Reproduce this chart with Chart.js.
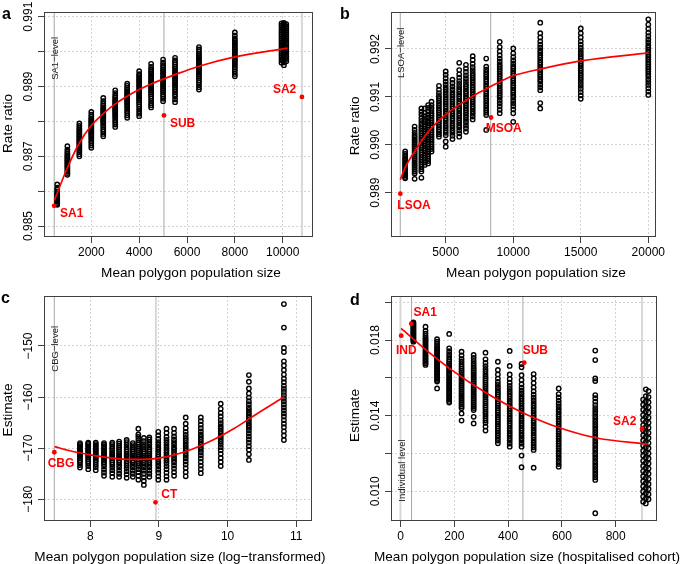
<!DOCTYPE html>
<html>
<head>
<meta charset="utf-8">
<script src="https://cdn.jsdelivr.net/npm/chart.js@4.4.1/dist/chart.umd.min.js"></script>
<style>
  body { margin: 0; background: #fff; width: 685px; height: 564px; position: relative; overflow: hidden; }
  canvas { position: absolute; left: 0; top: 0; }
</style>
</head>
<body>
<canvas id="pa" width="685" height="564"></canvas>
<canvas id="pb" width="685" height="564"></canvas>
<canvas id="pc" width="685" height="564"></canvas>
<canvas id="pd" width="685" height="564"></canvas>
<script>
// ---- panel a : SA1 / SUB / SA2 rate ratios ----
var aColX = [575, 1000, 1500, 2000, 2500, 3000, 3500, 4000, 4500, 5000, 5500, 6500, 8000, 9950, 10050, 10150];
var aColY = [
  [0.98561, 0.98563, 0.98566, 0.9857, 0.98573, 0.98576, 0.98578, 0.98581, 0.98584, 0.98588, 0.98591, 0.98594, 0.98598, 0.98604, 0.9861, 0.98619],
  [0.98647, 0.98652, 0.98657, 0.98662, 0.98667, 0.98671, 0.98675, 0.98679, 0.98683, 0.98687, 0.98691, 0.98695, 0.98699, 0.98703, 0.98708, 0.98713, 0.98719, 0.98729],
  [0.987, 0.98706, 0.98712, 0.98717, 0.98722, 0.98727, 0.98731, 0.98735, 0.98739, 0.98743, 0.98747, 0.98751, 0.98755, 0.98759, 0.98763, 0.98767, 0.98771, 0.98776, 0.98781, 0.98787, 0.98794],
  [0.98724, 0.98731, 0.98738, 0.98744, 0.9875, 0.98755, 0.9876, 0.98764, 0.98768, 0.98772, 0.98776, 0.9878, 0.98784, 0.98788, 0.98792, 0.98796, 0.988, 0.98804, 0.98808, 0.98813, 0.98819, 0.98827],
  [0.98757, 0.98764, 0.98771, 0.98777, 0.98783, 0.98788, 0.98793, 0.98797, 0.98801, 0.98805, 0.98809, 0.98813, 0.98817, 0.98821, 0.98825, 0.98829, 0.98833, 0.98837, 0.98841, 0.98846, 0.98851, 0.98858, 0.98867],
  [0.98784, 0.98791, 0.98798, 0.98804, 0.9881, 0.98815, 0.9882, 0.98824, 0.98828, 0.98832, 0.98836, 0.9884, 0.98844, 0.98848, 0.98852, 0.98856, 0.9886, 0.98864, 0.98869, 0.98874, 0.98881, 0.98889],
  [0.9881, 0.98817, 0.98824, 0.9883, 0.98836, 0.98841, 0.98846, 0.9885, 0.98854, 0.98858, 0.98862, 0.98866, 0.9887, 0.98874, 0.98878, 0.98882, 0.98886, 0.98891, 0.98896, 0.98902, 0.98908],
  [0.98815, 0.98822, 0.98829, 0.98836, 0.98843, 0.98849, 0.98855, 0.9886, 0.98865, 0.9887, 0.98875, 0.9888, 0.98885, 0.9889, 0.98895, 0.989, 0.98905, 0.9891, 0.98915, 0.9892, 0.98925, 0.9893, 0.98935, 0.98944],
  [0.9884, 0.98846, 0.98852, 0.98859, 0.98866, 0.98872, 0.98878, 0.98883, 0.98888, 0.98893, 0.98898, 0.98903, 0.98908, 0.98913, 0.98918, 0.98923, 0.98928, 0.98933, 0.98938, 0.98943, 0.98949, 0.98956, 0.98965],
  [0.98858, 0.98865, 0.98872, 0.98878, 0.98884, 0.98889, 0.98894, 0.98899, 0.98904, 0.98909, 0.98914, 0.98919, 0.98924, 0.98929, 0.98934, 0.98939, 0.98944, 0.98949, 0.98955, 0.98961, 0.98968, 0.98977],
  [0.98855, 0.98863, 0.98871, 0.98878, 0.98885, 0.98891, 0.98897, 0.98902, 0.98907, 0.98912, 0.98917, 0.98922, 0.98927, 0.98932, 0.98937, 0.98942, 0.98947, 0.98952, 0.98957, 0.98963, 0.98969, 0.98975, 0.98982],
  [0.98891, 0.98898, 0.98905, 0.98912, 0.98918, 0.98924, 0.98929, 0.98934, 0.98939, 0.98944, 0.98949, 0.98954, 0.98959, 0.98964, 0.98969, 0.98974, 0.98979, 0.98984, 0.98989, 0.98994, 0.99, 0.99006, 0.99013],
  [0.98929, 0.98936, 0.98943, 0.9895, 0.98956, 0.98962, 0.98967, 0.98972, 0.98977, 0.98982, 0.98987, 0.98992, 0.98997, 0.99002, 0.99007, 0.99012, 0.99017, 0.99022, 0.99027, 0.99032, 0.99038, 0.99046, 0.99055],
  [0.98968, 0.98975, 0.98982, 0.98989, 0.98995, 0.99001, 0.99007, 0.99013, 0.99019, 0.99025, 0.99031, 0.99037, 0.99043, 0.99049, 0.99055, 0.99061, 0.99068, 0.99075, 0.99081],
  [0.98961, 0.98969, 0.98977, 0.98985, 0.98992, 0.98998, 0.99004, 0.9901, 0.99016, 0.99022, 0.99028, 0.99034, 0.9904, 0.99046, 0.99052, 0.99058, 0.99064, 0.99071, 0.99078, 0.99082],
  [0.98972, 0.98979, 0.98986, 0.98993, 0.99, 0.99006, 0.99012, 0.99018, 0.99024, 0.9903, 0.99036, 0.99042, 0.99048, 0.99054, 0.9906, 0.99066, 0.99073, 0.99079]
];
var aFitX = [453, 1000, 1500, 2000, 2500, 3000, 3500, 4000, 4500, 5000, 5500, 6500, 8000, 10200];
var aFitY = [0.98573, 0.98667, 0.98738, 0.98788, 0.98822, 0.9885, 0.98872, 0.98891, 0.98907, 0.98921, 0.98934, 0.98958, 0.98985, 0.9901];
var aLevelX = [450, 5036, 10803];
var aRefX = [445, 5036, 10803];
var aRefY = [0.98558, 0.98817, 0.9887];
var aRefLabel = ['SA1', 'SUB', 'SA2'];
var aXTicks = [2000, 4000, 6000, 8000, 10000];
var aXLabels = ['2000', '4000', '6000', '8000', '10000'];
var aYTicks = [0.985, 0.986, 0.987, 0.988, 0.989, 0.990, 0.991];
var aYLabels = ['0.985', '', '0.987', '', '0.989', '', '0.991'];

// ---- panel b : LSOA / MSOA rate ratios ----
var bColX = [2000, 2700, 3200, 3450, 3700, 3950, 4500, 5000, 5500, 6000, 6500, 7000, 8000, 9000, 10000, 12000, 15000, 20000];
var bColY = [
  [0.9893, 0.98933, 0.98936, 0.98939, 0.98942, 0.98945, 0.98948, 0.98951, 0.98954, 0.98957, 0.9896, 0.98963, 0.98966, 0.98969, 0.98972, 0.98976, 0.98981, 0.98986],
  [0.98929, 0.9894, 0.98944, 0.98948, 0.98952, 0.98956, 0.9896, 0.98964, 0.98968, 0.98972, 0.98976, 0.9898, 0.98984, 0.98988, 0.98992, 0.98996, 0.99, 0.99004, 0.99008, 0.99012, 0.99016, 0.9902, 0.99025, 0.99031, 0.99038],
  [0.98931, 0.98944, 0.98949, 0.98954, 0.98959, 0.98964, 0.98969, 0.98974, 0.98979, 0.98984, 0.98989, 0.98994, 0.98999, 0.99004, 0.99009, 0.99014, 0.99019, 0.99024, 0.99029, 0.99034, 0.99039, 0.99044, 0.9905, 0.99056, 0.99063, 0.99069, 0.99076],
  [0.98958, 0.98963, 0.98968, 0.98973, 0.98978, 0.98983, 0.98988, 0.98993, 0.98998, 0.99003, 0.99008, 0.99013, 0.99018, 0.99023, 0.99028, 0.99033, 0.99038, 0.99043, 0.99048, 0.99054, 0.9906, 0.99067, 0.99076],
  [0.98961, 0.98966, 0.98971, 0.98976, 0.98981, 0.98986, 0.98991, 0.98996, 0.99001, 0.99006, 0.99011, 0.99016, 0.99021, 0.99026, 0.99031, 0.99036, 0.99041, 0.99046, 0.99051, 0.99057, 0.99063, 0.9907, 0.99077, 0.99083],
  [0.98986, 0.98991, 0.98996, 0.99001, 0.99006, 0.99011, 0.99016, 0.99021, 0.99026, 0.99031, 0.99036, 0.99041, 0.99046, 0.99051, 0.99056, 0.99061, 0.99066, 0.99071, 0.99077, 0.99083, 0.9909],
  [0.99017, 0.99022, 0.99027, 0.99032, 0.99037, 0.99042, 0.99047, 0.99052, 0.99057, 0.99062, 0.99067, 0.99072, 0.99077, 0.99082, 0.99087, 0.99092, 0.99097, 0.99102, 0.99108, 0.99115, 0.99123],
  [0.98996, 0.99007, 0.9902, 0.99025, 0.9903, 0.99035, 0.9904, 0.99045, 0.9905, 0.99055, 0.9906, 0.99065, 0.9907, 0.99075, 0.9908, 0.99085, 0.9909, 0.99095, 0.991, 0.99105, 0.9911, 0.99115, 0.9912, 0.99126, 0.99132, 0.99139, 0.99146, 0.99153],
  [0.99012, 0.99019, 0.99025, 0.9903, 0.99035, 0.9904, 0.99045, 0.9905, 0.99055, 0.9906, 0.99065, 0.9907, 0.99075, 0.9908, 0.99085, 0.9909, 0.99095, 0.991, 0.99105, 0.9911, 0.99116, 0.99122, 0.99129, 0.99136],
  [0.99017, 0.99024, 0.9903, 0.99036, 0.99041, 0.99046, 0.99051, 0.99056, 0.99061, 0.99066, 0.99071, 0.99076, 0.99081, 0.99086, 0.99091, 0.99096, 0.99101, 0.99106, 0.99111, 0.99116, 0.99121, 0.99127, 0.99133, 0.9914, 0.99147, 0.99156, 0.99171],
  [0.99027, 0.99034, 0.9904, 0.99046, 0.99052, 0.99057, 0.99062, 0.99067, 0.99072, 0.99077, 0.99082, 0.99087, 0.99092, 0.99097, 0.99102, 0.99107, 0.99112, 0.99117, 0.99122, 0.99127, 0.99133, 0.99139, 0.99145, 0.99152, 0.99159, 0.99167],
  [0.99053, 0.99059, 0.99065, 0.9907, 0.99075, 0.9908, 0.99085, 0.9909, 0.99095, 0.991, 0.99105, 0.9911, 0.99115, 0.9912, 0.99125, 0.9913, 0.99135, 0.9914, 0.99145, 0.9915, 0.99156, 0.99162, 0.99169, 0.99177, 0.99185],
  [0.99031, 0.99062, 0.99067, 0.99072, 0.99077, 0.99082, 0.99087, 0.99092, 0.99097, 0.99102, 0.99107, 0.99112, 0.99117, 0.99122, 0.99127, 0.99132, 0.99137, 0.99142, 0.99147, 0.99152, 0.99157, 0.99163, 0.9918],
  [0.99066, 0.99073, 0.9908, 0.99086, 0.99092, 0.99098, 0.99103, 0.99108, 0.99113, 0.99118, 0.99123, 0.99128, 0.99133, 0.99138, 0.99143, 0.99148, 0.99153, 0.99158, 0.99163, 0.99168, 0.99174, 0.9918, 0.99187, 0.99195, 0.99204, 0.99215],
  [0.99048, 0.99066, 0.99074, 0.99081, 0.99087, 0.99093, 0.99099, 0.99104, 0.99109, 0.99114, 0.99119, 0.99124, 0.99129, 0.99134, 0.99139, 0.99144, 0.99149, 0.99154, 0.99159, 0.99164, 0.9917, 0.99176, 0.99183, 0.99191, 0.99201],
  [0.99076, 0.99087, 0.99114, 0.9912, 0.99126, 0.99132, 0.99137, 0.99142, 0.99147, 0.99152, 0.99157, 0.99162, 0.99167, 0.99172, 0.99177, 0.99182, 0.99187, 0.99192, 0.99197, 0.99203, 0.99209, 0.99216, 0.99224, 0.99233, 0.99255],
  [0.99096, 0.99103, 0.9911, 0.99117, 0.99123, 0.99129, 0.99135, 0.9914, 0.99145, 0.9915, 0.99155, 0.9916, 0.99165, 0.9917, 0.99175, 0.9918, 0.99185, 0.9919, 0.99196, 0.99202, 0.99209, 0.99216, 0.99224, 0.99233, 0.99243],
  [0.99104, 0.99111, 0.99118, 0.99125, 0.99131, 0.99137, 0.99143, 0.99148, 0.99153, 0.99158, 0.99163, 0.99168, 0.99173, 0.99178, 0.99183, 0.99188, 0.99193, 0.99198, 0.99203, 0.99208, 0.99214, 0.9922, 0.99227, 0.99234, 0.99242, 0.99251, 0.99262]
];
var bFitX = [1640, 2000, 2700, 3700, 4950, 6200, 7400, 8360, 9400, 10000, 12000, 15000, 20000];
var bFitY = [0.98927, 0.98953, 0.98986, 0.99027, 0.99062, 0.99087, 0.99108, 0.99122, 0.99137, 0.99144, 0.99158, 0.99175, 0.99192];
var bLevelX = [1637, 8333];
var bRefX = [1640, 8355];
var bRefY = [0.98898, 0.99057];
var bRefLabel = ['LSOA', 'MSOA'];
var bXTicks = [5000, 10000, 15000, 20000];
var bXLabels = ['5000', '10000', '15000', '20000'];
var bYTicks = [0.989, 0.990, 0.991, 0.992];
var bYLabels = ['0.989', '0.990', '0.991', '0.992'];

// ---- panel c : CBG / CT estimates (log population) ----
var cColX = [7.85, 7.97, 8.08, 8.2, 8.32, 8.42, 8.53, 8.62, 8.7, 8.78, 8.86, 8.99, 9.11, 9.22, 9.39, 9.61, 9.9, 10.31, 10.82];
var cColY = [
  [-173.8, -173.3, -172.8, -172.4, -172.0, -171.7, -171.4, -171.1, -170.8, -170.5, -170.2, -169.9, -169.6, -169.3, -169.0],
  [-174.1, -173.5, -173.0, -172.6, -172.2, -171.8, -171.5, -171.2, -170.9, -170.6, -170.3, -170.0, -169.7, -169.4, -169.1, -168.9],
  [-174.3, -173.7, -173.2, -172.7, -172.3, -171.9, -171.6, -171.3, -171.0, -170.7, -170.4, -170.1, -169.8, -169.5, -169.2, -168.9],
  [-175.4, -174.8, -174.2, -173.6, -173.1, -172.7, -172.3, -171.9, -171.6, -171.3, -171.0, -170.7, -170.4, -170.0, -169.6, -169.3, -169.0],
  [-175.6, -174.9, -174.3, -173.7, -173.2, -172.8, -172.4, -172.0, -171.7, -171.4, -171.1, -170.8, -170.4, -170.0, -169.6, -169.2, -168.9],
  [-175.6, -175.0, -174.4, -173.8, -173.3, -172.8, -172.4, -172.0, -171.7, -171.4, -171.1, -170.7, -170.3, -169.9, -169.5, -169.1, -168.7],
  [-175.8, -175.1, -174.5, -173.9, -173.4, -172.9, -172.5, -172.1, -171.7, -171.4, -171.1, -170.7, -170.3, -169.8, -169.3, -168.8, -168.4],
  [-175.6, -175.0, -174.4, -173.8, -173.3, -172.8, -172.4, -172.0, -171.7, -171.4, -171.0, -170.6, -170.2, -169.8, -169.4, -169.0],
  [-176.2, -175.4, -174.7, -174.1, -173.5, -173.0, -172.5, -172.1, -171.7, -171.3, -170.9, -170.5, -170.1, -169.7, -169.3, -168.9, -168.4, -167.8, -167.3, -166.2],
  [-177.2, -176.4, -175.7, -175.0, -174.4, -173.8, -173.3, -172.8, -172.3, -171.9, -171.5, -171.1, -170.7, -170.2, -169.7, -169.2, -168.6, -168.0],
  [-175.6, -175.0, -174.4, -173.8, -173.3, -172.8, -172.3, -171.9, -171.5, -171.1, -170.7, -170.3, -169.8, -169.3, -168.8, -168.3, -167.9],
  [-176.2, -175.5, -174.8, -174.2, -173.6, -173.1, -172.6, -172.1, -171.7, -171.3, -170.8, -170.3, -169.8, -169.3, -168.8, -168.2, -167.5, -166.8],
  [-176.2, -175.5, -174.8, -174.1, -173.5, -172.9, -172.4, -171.9, -171.4, -170.9, -170.4, -169.9, -169.4, -168.9, -168.4, -167.8, -167.0, -166.2],
  [-175.4, -174.7, -174.0, -173.4, -172.8, -172.3, -171.8, -171.3, -170.8, -170.3, -169.8, -169.3, -168.8, -168.3, -167.7, -167.0, -166.2],
  [-175.5, -174.7, -173.9, -173.2, -172.6, -172.0, -171.5, -171.0, -170.5, -170.0, -169.5, -169.0, -168.5, -168.0, -167.4, -166.8, -166.1, -165.2, -164.0],
  [-174.9, -174.1, -173.4, -172.7, -172.0, -171.4, -170.8, -170.3, -169.8, -169.3, -168.8, -168.3, -167.8, -167.3, -166.7, -166.1, -165.4, -164.7, -164.0],
  [-173.5, -172.7, -171.9, -171.1, -170.4, -169.8, -169.2, -168.7, -168.2, -167.7, -167.2, -166.7, -166.2, -165.7, -165.1, -164.5, -163.8, -163.1, -162.3, -161.3],
  [-172.3, -171.2, -170.3, -169.6, -168.9, -168.3, -167.7, -167.1, -166.5, -166.0, -165.5, -165.0, -164.5, -164.0, -163.5, -163.0, -162.5, -162.0, -161.4, -160.8, -160.1, -159.3, -158.3, -157.0, -155.7],
  [-168.4, -167.5, -166.7, -165.9, -165.2, -164.5, -163.8, -163.2, -162.6, -162.0, -161.4, -160.8, -160.2, -159.6, -159.0, -158.4, -157.8, -157.1, -156.4, -155.6, -154.7, -153.8, -153.0, -151.2, -150.4, -146.4, -141.8]
];
var cFitX = [7.48, 7.7, 8.0, 8.3, 8.6, 8.9, 9.2, 9.5, 9.8, 10.1, 10.4, 10.82];
var cFitY = [-169.7, -170.5, -171.3, -171.9, -172.2, -172.1, -171.4, -170.1, -168.3, -166.1, -163.5, -160.0];
var cLevelX = [7.476, 8.956];
var cRefX = [7.476, 8.95];
var cRefY = [-170.8, -180.6];
var cRefLabel = ['CBG', 'CT'];
var cXTicks = [8, 9, 10, 11];
var cXLabels = ['8', '9', '10', '11'];
var cYTicks = [-180, -170, -160, -150];
var cYLabels = ['\u2212180', '\u2212170', '\u2212160', '\u2212150'];

// ---- panel d : hospitalised cohort estimates ----
var dColX = [48, 93, 136, 181, 227, 272, 316, 362, 406, 450, 495, 588, 724, 902, 912, 922];
var dColY = [
  [0.01791, 0.01797, 0.01803, 0.01809, 0.01815, 0.01821, 0.01827, 0.01833, 0.01839, 0.01845, 0.01851, 0.01857, 0.01863, 0.01869, 0.01875, 0.01881, 0.01887, 0.01893],
  [0.01668, 0.01676, 0.01684, 0.01692, 0.017, 0.01708, 0.01716, 0.01724, 0.01732, 0.0174, 0.01748, 0.01756, 0.01764, 0.01772, 0.0178, 0.01788, 0.01796, 0.01804, 0.01812, 0.01822, 0.01834, 0.01848, 0.0187],
  [0.01544, 0.0158, 0.01588, 0.01596, 0.01604, 0.01612, 0.0162, 0.01628, 0.01636, 0.01644, 0.01652, 0.0166, 0.01668, 0.01676, 0.01684, 0.01692, 0.017, 0.01708, 0.01716, 0.01724, 0.01732, 0.0174, 0.01748, 0.01757, 0.01767, 0.01779, 0.01791, 0.01804],
  [0.01469, 0.01478, 0.01487, 0.01496, 0.01505, 0.01514, 0.01523, 0.01532, 0.01541, 0.0155, 0.01559, 0.01568, 0.01577, 0.01586, 0.01595, 0.01604, 0.01613, 0.01622, 0.01631, 0.0164, 0.01649, 0.01658, 0.01667, 0.01676, 0.01686, 0.01697, 0.0171, 0.01725, 0.01741, 0.01756, 0.01832],
  [0.01374, 0.01412, 0.01439, 0.01449, 0.01459, 0.01469, 0.01479, 0.01489, 0.01499, 0.01509, 0.01519, 0.01529, 0.01539, 0.01549, 0.01559, 0.01569, 0.01579, 0.01589, 0.01599, 0.01609, 0.01619, 0.01629, 0.01639, 0.01649, 0.0166, 0.01672, 0.01685, 0.017, 0.01718, 0.01738],
  [0.01359, 0.01394, 0.0143, 0.0144, 0.0145, 0.0146, 0.0147, 0.0148, 0.0149, 0.015, 0.0151, 0.0152, 0.0153, 0.0154, 0.0155, 0.0156, 0.0157, 0.0158, 0.0159, 0.016, 0.0161, 0.0162, 0.0163, 0.0164, 0.01651, 0.01663, 0.01676, 0.0169, 0.01705, 0.01721],
  [0.01321, 0.01342, 0.01362, 0.01374, 0.01386, 0.01398, 0.0141, 0.01421, 0.01432, 0.01443, 0.01454, 0.01465, 0.01476, 0.01487, 0.01498, 0.01509, 0.0152, 0.01531, 0.01542, 0.01553, 0.01564, 0.01575, 0.01586, 0.01597, 0.01608, 0.0162, 0.01633, 0.01647, 0.01662, 0.01679, 0.01698, 0.01733],
  [0.01254, 0.01268, 0.01282, 0.01295, 0.01308, 0.0132, 0.01332, 0.01344, 0.01356, 0.01368, 0.0138, 0.01392, 0.01404, 0.01416, 0.01428, 0.0144, 0.01452, 0.01464, 0.01476, 0.01488, 0.015, 0.01512, 0.01524, 0.01536, 0.01549, 0.01563, 0.01578, 0.01596, 0.01618, 0.01642, 0.01685],
  [0.01236, 0.01252, 0.01267, 0.01281, 0.01294, 0.01307, 0.0132, 0.01333, 0.01346, 0.01359, 0.01372, 0.01385, 0.01398, 0.01411, 0.01424, 0.01437, 0.0145, 0.01463, 0.01476, 0.01489, 0.01502, 0.01515, 0.01528, 0.01542, 0.01557, 0.01574, 0.01594, 0.01618, 0.01663, 0.01742],
  [0.01127, 0.01189, 0.01236, 0.01252, 0.01267, 0.01281, 0.01295, 0.01308, 0.01321, 0.01334, 0.01347, 0.0136, 0.01373, 0.01386, 0.01399, 0.01412, 0.01425, 0.01438, 0.01451, 0.01464, 0.01477, 0.0149, 0.01503, 0.01517, 0.01532, 0.01548, 0.01566, 0.01588, 0.01614, 0.01656, 0.01673],
  [0.01125, 0.01219, 0.01232, 0.01245, 0.01258, 0.01271, 0.01284, 0.01297, 0.0131, 0.01323, 0.01336, 0.01349, 0.01362, 0.01375, 0.01388, 0.01401, 0.01414, 0.01427, 0.0144, 0.01453, 0.01466, 0.0148, 0.01495, 0.01511, 0.01529, 0.01549, 0.01572, 0.01597, 0.0162],
  [0.0113, 0.01144, 0.01158, 0.01172, 0.01186, 0.012, 0.01213, 0.01226, 0.01239, 0.01252, 0.01265, 0.01278, 0.01291, 0.01304, 0.01317, 0.0133, 0.01343, 0.01356, 0.01369, 0.01382, 0.01395, 0.01408, 0.01421, 0.01434, 0.01448, 0.01463, 0.01479, 0.01496, 0.01514, 0.01544],
  [0.00884, 0.0106, 0.01074, 0.01088, 0.01102, 0.01116, 0.0113, 0.01144, 0.01158, 0.01172, 0.01186, 0.012, 0.01214, 0.01228, 0.01242, 0.01256, 0.0127, 0.01284, 0.01298, 0.01312, 0.01326, 0.0134, 0.01354, 0.01368, 0.01382, 0.01396, 0.0141, 0.01425, 0.0144, 0.01456, 0.01474, 0.01492, 0.01509, 0.01583, 0.01597, 0.01694, 0.01744],
  [0.00945, 0.00972, 0.00999, 0.01026, 0.01053, 0.0108, 0.01107, 0.01134, 0.01161, 0.01188, 0.01215, 0.01242, 0.01269, 0.01296, 0.01323, 0.0135, 0.01377, 0.01404, 0.01431, 0.01458, 0.01485],
  [0.00936, 0.00963, 0.0099, 0.01017, 0.01044, 0.01071, 0.01098, 0.01125, 0.01152, 0.01179, 0.01206, 0.01233, 0.0126, 0.01287, 0.01314, 0.01341, 0.01368, 0.01395, 0.01422, 0.01449, 0.01476, 0.01503, 0.01539],
  [0.00958, 0.00985, 0.01012, 0.01039, 0.01066, 0.01093, 0.0112, 0.01147, 0.01174, 0.01201, 0.01228, 0.01255, 0.01282, 0.01309, 0.01336, 0.01363, 0.0139, 0.01417, 0.01444, 0.01471, 0.01498, 0.0153]
];
var dFitX = [2.5, 98, 191, 316, 406, 495, 588, 724, 920];
var dFitY = [0.01862, 0.01744, 0.01641, 0.01522, 0.0145, 0.01389, 0.01337, 0.01283, 0.01249];
var dLevelX = [0, 41, 455, 898];
var dRefX = [2.6, 40, 460, 898];
var dRefY = [0.01823, 0.01886, 0.0168, 0.01331];
var dRefLabel = ['IND', 'SA1', 'SUB', 'SA2'];
var dXTicks = [0, 200, 400, 600, 800];
var dXLabels = ['0', '200', '400', '600', '800'];
var dYTicks = [0.010, 0.012, 0.014, 0.016, 0.018, 0.020];
var dYLabels = ['0.010', '', '0.014', '', '0.018', ''];

var FONT = '"Liberation Sans", Arial, sans-serif';
var W = 685, H = 564;

function columnPoints(xs, ys) {
  var pts = [];
  xs.forEach(function (x, i) {
    ys[i].forEach(function (y) { pts.push({ x: x, y: y }); });
  });
  return pts;
}

function pairs(xs, ys) {
  return xs.map(function (x, i) { return { x: x, y: ys[i] }; });
}

// box, tick labels, titles and the red annotations
function textPlugin(p) {
  return {
    id: 'text_' + p.letter,
    afterDraw: function (chart) {
      var ctx = chart.ctx, ar = chart.chartArea;
      var sx = chart.scales.x, sy = chart.scales.y;
      ctx.save();
      ctx.strokeStyle = '#404040';
      ctx.lineWidth = 1;
      ctx.strokeRect(ar.left + 0.5, ar.top + 0.5, ar.right - ar.left - 1, ar.bottom - ar.top - 1);

      ctx.fillStyle = '#000';
      ctx.font = '12px ' + FONT;
      ctx.textAlign = 'center';
      ctx.textBaseline = 'middle';
      sx.ticks.forEach(function (t, i) {
        ctx.fillText(p.xLabels[i], sx.getPixelForValue(t.value), ar.bottom + 16);
      });
      sy.ticks.forEach(function (t, i) {
        if (!p.yLabels[i]) return;
        ctx.save();
        ctx.translate(ar.left - 15.5, sy.getPixelForValue(t.value));
        ctx.rotate(-Math.PI / 2);
        ctx.fillText(p.yLabels[i], 0, 0);
        ctx.restore();
      });

      ctx.font = '13.6px ' + FONT;
      ctx.textBaseline = 'alphabetic';
      ctx.fillText(p.xTitle, p.xTitleX, ar.bottom + 39.5);
      ctx.save();
      ctx.translate(ar.left - 35.3, p.yTitleY);
      ctx.rotate(-Math.PI / 2);
      ctx.textBaseline = 'middle';
      ctx.fillText(p.yTitle, 0, 0);
      ctx.restore();

      ctx.font = 'bold 16px ' + FONT;
      ctx.textAlign = 'left';
      ctx.fillText(p.letter, p.letterX, p.letterY);

      // level note beside the first reference line
      ctx.font = '9.5px ' + FONT;
      ctx.fillStyle = '#222';
      ctx.save();
      ctx.translate(sx.getPixelForValue(p.levelX[0]) + 1.5, p.levelTextY);
      ctx.rotate(-Math.PI / 2);
      ctx.textAlign = 'center';
      ctx.textBaseline = 'middle';
      ctx.fillText(p.levelText, 0, 0);
      ctx.restore();

      ctx.font = 'bold 12px ' + FONT;
      ctx.fillStyle = '#ff0000';
      ctx.textBaseline = 'middle';
      p.refLabel.forEach(function (lab, i) {
        var off = p.refOffset[i];
        ctx.textAlign = off[2];
        ctx.fillText(lab, sx.getPixelForValue(p.refX[i]) + off[0], sy.getPixelForValue(p.refY[i]) + off[1]);
      });
      ctx.restore();
    }
  };
}

function makePanel(id, p) {
  var datasets = [];
  p.levelX.forEach(function (x, i) {
    var wide = p.levelWide[i];
    datasets.push({
      data: [{ x: x, y: p.yMin }, { x: x, y: p.yMax }],
      showLine: true, pointRadius: 0,
      borderColor: wide ? '#d8d8d8' : '#a8a8a8', borderWidth: wide ? 2 : 1,
      order: 4
    });
  });
  datasets.push({
    data: columnPoints(p.colX, p.colY),
    pointRadius: 2.2, borderWidth: 1.4,
    borderColor: '#000', backgroundColor: 'rgba(0,0,0,0)',
    order: 3
  });
  datasets.push({
    data: pairs(p.fitX, p.fitY),
    showLine: true, pointRadius: 0, borderColor: '#ff0000', borderWidth: 1.7,
    cubicInterpolationMode: 'monotone',
    order: 2
  });
  datasets.push({
    data: pairs(p.refX, p.refY),
    pointRadius: 2.4, borderWidth: 0, backgroundColor: '#ff0000', borderColor: '#ff0000',
    order: 1
  });

  var grid = {
    color: '#d2d2d2', lineWidth: 1,
    drawTicks: true, tickLength: 6, tickColor: '#404040', tickWidth: 1, tickBorderDash: []
  };
  var border = { display: false, dash: [2, 2] };

  new Chart(document.getElementById(id), {
    type: 'scatter',
    data: { datasets: datasets },
    options: {
      responsive: false,
      animation: false,
      events: [],
      layout: { padding: { left: p.area.left - 44, top: p.area.top, right: W - p.area.right, bottom: H - p.area.bottom - 30 } },
      plugins: { legend: { display: false }, tooltip: { enabled: false } },
      scales: {
        x: {
          type: 'linear', position: 'bottom', min: p.xMin, max: p.xMax,
          afterBuildTicks: function (s) { s.ticks = p.xTicks.map(function (v) { return { value: v }; }); },
          afterFit: function (s) { s.height = 30; },
          ticks: { display: false },
          grid: grid, border: border
        },
        y: {
          type: 'linear', position: 'left', min: p.yMin, max: p.yMax,
          afterBuildTicks: function (s) { s.ticks = p.yTicks.map(function (v) { return { value: v }; }); },
          afterFit: function (s) { s.width = 44; },
          ticks: { display: false },
          grid: grid, border: border
        }
      }
    },
    plugins: [textPlugin(p)]
  });
}

makePanel('pa', {
  letter: 'a', letterX: 2, letterY: 19,
  area: { left: 44, top: 12, right: 313, bottom: 237 },
  xMin: 23, xMax: 11266, yMin: 0.984685, yMax: 0.991135,
  colX: aColX, colY: aColY, fitX: aFitX, fitY: aFitY,
  levelX: aLevelX, levelWide: [false, false, true],
  levelText: 'SA1\u2212level', levelTextY: 58.3,
  refX: aRefX, refY: aRefY, refLabel: aRefLabel,
  refOffset: [[6, 8, 'left'], [6, 8.3, 'left'], [-5.7, -7, 'right']],
  xTicks: aXTicks, xLabels: aXLabels, yTicks: aYTicks, yLabels: aYLabels,
  xTitle: 'Mean polygon population size', xTitleX: 191,
  yTitle: 'Rate ratio', yTitleY: 123.5
});

makePanel('pb', {
  letter: 'b', letterX: 340, letterY: 18.5,
  area: { left: 391, top: 12, right: 656, bottom: 237 },
  xMin: 950, xMax: 20570, yMin: 0.988075, yMax: 0.992772,
  colX: bColX, colY: bColY, fitX: bFitX, fitY: bFitY,
  levelX: bLevelX, levelWide: [false, false],
  levelText: 'LSOA\u2212level', levelTextY: 52.8,
  refX: bRefX, refY: bRefY, refLabel: bRefLabel,
  refOffset: [[-3, 12.3, 'left'], [-5.3, 11.6, 'left']],
  xTicks: bXTicks, xLabels: bXLabels, yTicks: bYTicks, yLabels: bYLabels,
  xTitle: 'Mean polygon population size', xTitleX: 536,
  yTitle: 'Rate ratio', yTitleY: 125.8
});

makePanel('pc', {
  letter: 'c', letterX: 1, letterY: 303,
  area: { left: 44, top: 296, right: 312, bottom: 521 },
  xMin: 7.326, xMax: 11.229, yMin: -184.25, yMax: -140.22,
  colX: cColX, colY: cColY, fitX: cFitX, fitY: cFitY,
  levelX: cLevelX, levelWide: [false, true],
  levelText: 'CBG\u2212level', levelTextY: 348.8,
  refX: cRefX, refY: cRefY, refLabel: cRefLabel,
  refOffset: [[-6.6, 11.7, 'left'], [5.7, -7.3, 'left']],
  xTicks: cXTicks, xLabels: cXLabels, yTicks: cYTicks, yLabels: cYLabels,
  xTitle: 'Mean polygon population size (log\u2212transformed)', xTitleX: 180,
  yTitle: 'Estimate', yTitleY: 410
});

makePanel('pd', {
  letter: 'd', letterX: 350, letterY: 305,
  area: { left: 391, top: 296, right: 657, bottom: 521 },
  xMin: -35.3, xMax: 953.5, yMin: 0.008429, yMax: 0.020327,
  colX: dColX, colY: dColY, fitX: dFitX, fitY: dFitY,
  levelX: dLevelX, levelWide: [true, false, false, true],
  levelText: 'Individual level', levelTextY: 470.5,
  refX: dRefX, refY: dRefY, refLabel: dRefLabel,
  refOffset: [[-5.3, 15.3, 'left'], [2.3, -11.4, 'left'], [-1.6, -11.7, 'left'], [-5.7, -7, 'right']],
  xTicks: dXTicks, xLabels: dXLabels, yTicks: dYTicks, yLabels: dYLabels,
  xTitle: 'Mean polygon population size (hospitalised cohort)', xTitleX: 527,
  yTitle: 'Estimate', yTitleY: 415.5
});
</script>
</body>
</html>
